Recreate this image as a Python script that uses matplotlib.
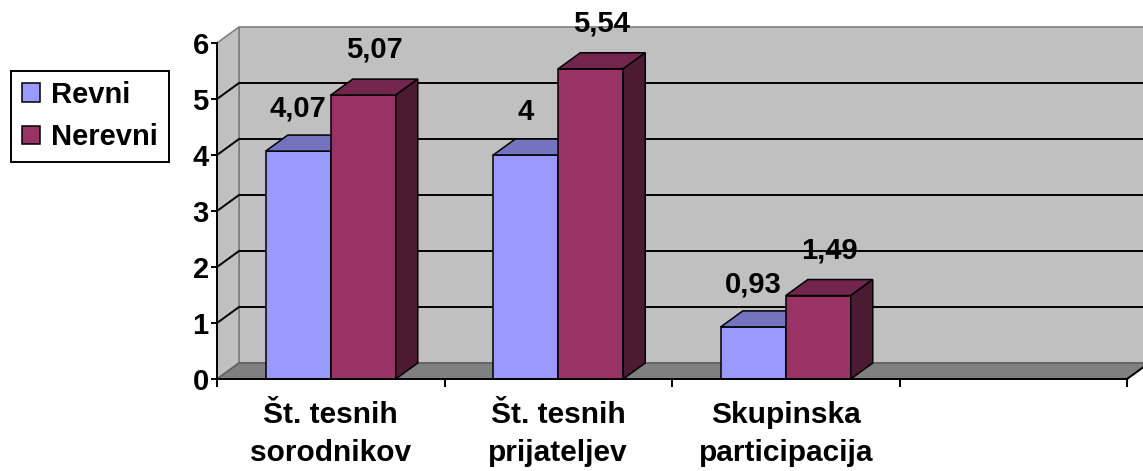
import matplotlib.pyplot as plt
from matplotlib.patches import Polygon, Patch

# data
categories = ['Št. tesnih\nsorodnikov', 'Št. tesnih\nprijateljev', 'Skupinska\nparticipacija', '']
series_names = ['Revni', 'Nerevni']
revni = [4.07, 4.00, 0.93]
nerevni = [5.07, 5.54, 1.49]
yticks = [0, 1, 2, 3, 4, 5, 6]

# excel-like colours (front, top, side)
revni_cols = ('#9999ff', '#7373bf', '#4d4d80')
nerevni_cols = ('#993366', '#73264d', '#4d1a33')

plt.rcParams['font.family'] = ['Liberation Sans', 'DejaVu Sans']
plt.rcParams['font.weight'] = 'bold'
FS = 21

W, H = 1143, 471
fig = plt.figure(figsize=(W / 100, H / 100), dpi=100)
ax = fig.add_axes([217 / W, (H - 379) / H, (1127 - 217) / W, (379 - 43) / H])
ncat = len(categories)
ymax = yticks[-1]
ax.set_xlim(0, ncat)
ax.set_ylim(0, ymax)

# oblique depth offset (22 px right, 16 px up)
DX = 22 / (910 / ncat)
DY = 16 / (336 / ymax)

# walls and floor
ax.add_patch(Polygon([(DX, DY), (ncat + DX, DY), (ncat + DX, ymax + DY), (DX, ymax + DY)],
                     fc='#c0c0c0', ec='#808080', lw=1.2, clip_on=False, zorder=0))
ax.add_patch(Polygon([(0, 0), (DX, DY), (DX, ymax + DY), (0, ymax)],
                     fc='#c0c0c0', ec='#808080', lw=1.2, clip_on=False, zorder=0.2))
ax.add_patch(Polygon([(0, 0), (ncat, 0), (ncat + DX, DY), (DX, DY)],
                     fc='#808080', ec='#606060', lw=1.2, clip_on=False, zorder=0.4))
ax.plot([ncat, ncat + DX], [0, DY], color='black', lw=1.4, clip_on=False, zorder=0.5)

for v in yticks[1:-1]:
    ax.plot([0, DX, ncat + DX], [v, v + DY, v + DY], color='black', lw=1.4,
            clip_on=False, zorder=1)


def bar3d(x0, w, v, cols, z):
    front, top, side = cols
    kw = dict(ec='black', lw=1.1, clip_on=False, zorder=z, joinstyle='miter')
    ax.add_patch(Polygon([(x0, 0), (x0 + w, 0), (x0 + w, v), (x0, v)], fc=front, **kw))
    ax.add_patch(Polygon([(x0, v), (x0 + DX, v + DY), (x0 + w + DX, v + DY), (x0 + w, v)],
                         fc=top, **kw))
    ax.add_patch(Polygon([(x0 + w, 0), (x0 + w + DX, DY), (x0 + w + DX, v + DY), (x0 + w, v)],
                         fc=side, **kw))


def fmt(v):
    return f'{v:g}'.replace('.', ',')


bw = 1 / 3.5  # gap width 150%
z = 2
for i in range(len(revni)):
    x_r = i + 0.5 - bw
    x_n = i + 0.5
    bar3d(x_r, bw, revni[i], revni_cols, z)
    bar3d(x_n, bw, nerevni[i], nerevni_cols, z + 1)
    z += 2
    ax.text(x_r + bw / 2, revni[i] + DY + 0.48, fmt(revni[i]), ha='center', va='center',
            fontsize=FS, fontweight='bold', zorder=20)
    ax.text(x_n + bw / 2 + DX / 2, nerevni[i] + DY + 0.52, fmt(nerevni[i]), ha='center',
            va='center', fontsize=FS, fontweight='bold', zorder=20)

# axes
for s in ['top', 'right']:
    ax.spines[s].set_visible(False)
for s in ['left', 'bottom']:
    ax.spines[s].set_linewidth(1.4)
    ax.spines[s].set_zorder(10)
ax.set_facecolor('none')

ax.set_yticks(yticks)
ax.tick_params(axis='y', direction='out', length=4, width=1.4, pad=2, labelsize=FS)
ax.set_xticks(range(ncat + 1))
ax.set_xticklabels([''] * (ncat + 1))
ax.tick_params(axis='x', which='major', direction='out', length=5.5, width=1.4)
ax.set_xticks([i + 0.5 for i in range(ncat)], minor=True)
ax.set_xticklabels(categories, minor=True)
ax.tick_params(axis='x', which='minor', length=0, pad=16, labelsize=FS + 0.5)
for lbl in ax.get_xticklabels(minor=True):
    lbl.set_linespacing(1.45)
    lbl.set_fontweight('bold')
for lbl in ax.get_yticklabels():
    lbl.set_fontweight('bold')

handles = [Patch(fc=revni_cols[0], ec='black', lw=1.1),
           Patch(fc=nerevni_cols[0], ec='black', lw=1.1)]
leg = fig.legend(handles, series_names, loc='center', bbox_to_anchor=(90 / W, 1 - 116 / H),
                 frameon=True, fancybox=False, edgecolor='black', framealpha=1,
                 handlelength=0.62, handleheight=0.62, handletextpad=0.4,
                 labelspacing=0.5, borderpad=0.35, borderaxespad=0,
                 prop={'weight': 'bold', 'size': FS})
leg.get_frame().set_linewidth(1.4)

fig.savefig('out.png', dpi=100)
